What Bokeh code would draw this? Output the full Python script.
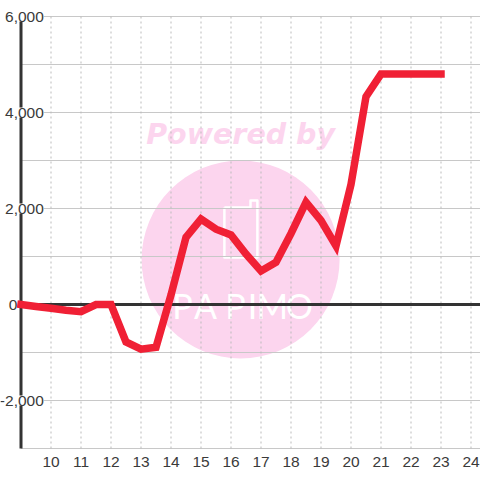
from bokeh.plotting import figure
from bokeh.embed import file_html
from bokeh.resources import INLINE
from bokeh.core.properties import value
from bokeh.models import Range1d

hours = [9,9.5,10,10.5,11,11.5,12,12.5,13,13.5,14,14.5,15,15.5,16,16.5,17,17.5,18,18.5,19,19.5,20,20.5,21,21.5,22,22.5,23]
vals = [0,-40,-80,-120,-150,0,0,-780,-930,-890,200,1400,1780,1570,1450,1050,700,880,1480,2130,1750,1220,2500,4330,4800,4800,4800,4800,4800]
x_ticks = [10,11,12,13,14,15,16,17,18,19,20,21,22,23,24]
y_grid = [-3000,-2000,-1000,0,1000,2000,3000,4000,5000,6000]
y_labels = [6000,4000,2000,0,-2000]
y_text = ["6,000","4,000","2,000","0","-2,000"]
y_label_x = [9.76,9.76,9.76,8.88,9.76]
logo_letters = ["P","A","P","I","M","O"]
logo_x = [14.38,15.15,16.15,16.72,17.38,18.28]
phone_x = [15.78,15.78,16.88,16.88,16.65,16.65,15.78]
phone_y = [2020,979,979,2167,2167,2020,2020]

PX, PY = 30.0, 0.048
x0 = 9 - 20.5/PX
xr = x0 + 480/PX
p = figure(width=480, height=480, output_backend="svg", toolbar_location=None,
           x_range=Range1d(x0, xr), y_range=Range1d(-3000-32/PY, 6000+16/PY),
           min_border=0, min_border_left=0, min_border_right=0, min_border_top=0, min_border_bottom=0,
           styles={"position":"absolute","left":"0px","top":"0px"},
           background_fill_color="white", border_fill_color="white")
p.outline_line_color = None
p.yaxis.visible = False
p.ygrid.visible = False
p.xgrid.visible = False
p.xaxis.visible = False

# watermark
p.scatter([16.32],[937], size=198, marker="circle", fill_color="#fcd5ee", line_color=None)
p.text([16.32],[3550], text=["Powered by"], text_font=value("DejaVu Sans"), text_font_style="bold italic",
       text_font_size="28.5px", text_color="#fcd5ee", text_align="center", text_baseline="middle")
p.line(phone_x, phone_y, line_color="white", line_width=2.5, line_join="round")
for lx, lt in zip(logo_x, logo_letters):
    p.text([lx],[-20], text=[lt], text_font=value("Lato"), text_font_size="34px", text_color="white",
           text_align="center", text_baseline="alphabetic")

# grid
for v in y_grid:
    p.line([9, xr],[v,v], line_color="#c8c8c8", line_width=1)
for v in x_ticks:
    p.line([v,v],[-3000,6000], line_color="#bbbbbb", line_width=1, line_dash="2 3")
# axes
p.line([9,9],[-3000,6000], line_color="#333333", line_width=3)
p.line([9,xr],[0,0], line_color="#333333", line_width=3)
# labels
p.text(y_label_x, y_labels, text=y_text, text_font=value("Liberation Sans"), text_font_size="15.5px",
       text_color="#3a3a3a", text_align="right", text_baseline="middle", background_fill_color="white")
p.text(x_ticks, [-3000]*len(x_ticks), text=[str(t) for t in x_ticks], text_font=value("Liberation Sans"), text_font_size="15.5px",
       text_color="#3a3a3a", text_align="center", text_baseline="middle", y_offset=13)
# data
p.line(hours, vals, line_color="#f02035", line_width=7.5, line_join="miter", line_cap="square")
open("out.html","w").write(file_html(p, INLINE))
